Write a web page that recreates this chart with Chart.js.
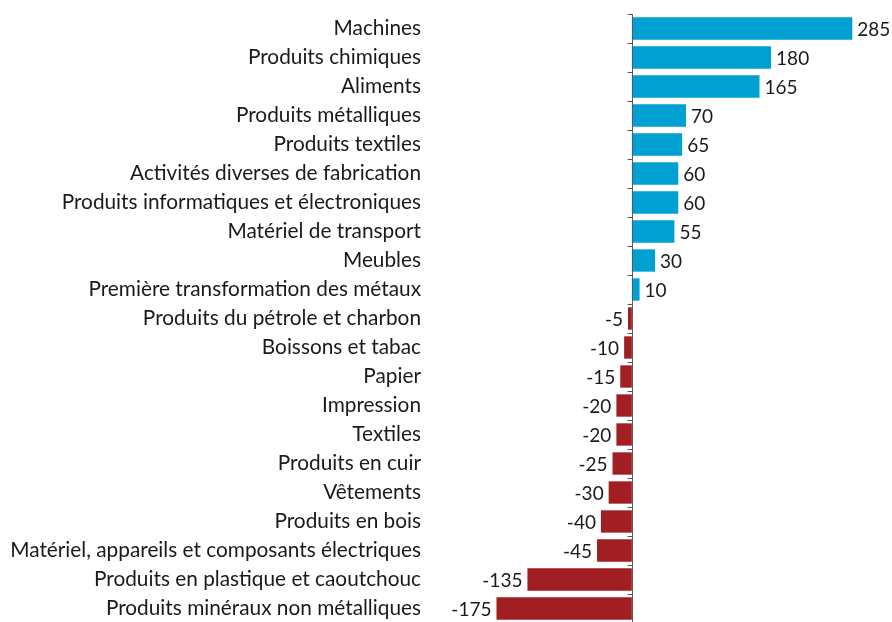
<!DOCTYPE html>
<html>
<head>
<meta charset="utf-8">
<script src="https://cdn.jsdelivr.net/npm/chart.js@4/dist/chart.umd.min.js"></script>
<style>
  html, body { margin: 0; padding: 0; background: #fff; overflow: hidden; }
  #wrap { width: 892px; height: 624px; }
</style>
</head>
<body>
<div id="wrap"><canvas id="myChart"></canvas></div>
<script>
var categories = [
  'Machines', 'Produits chimiques', 'Aliments', 'Produits métalliques',
  'Produits textiles', 'Activités diverses de fabrication',
  'Produits informatiques et électroniques', 'Matériel de transport',
  'Meubles', 'Première transformation des métaux',
  'Produits du pétrole et charbon', 'Boissons et tabac', 'Papier',
  'Impression', 'Textiles', 'Produits en cuir', 'Vêtements',
  'Produits en bois', 'Matériel, appareils et composants électriques',
  'Produits en plastique et caoutchouc', 'Produits minéraux non métalliques'
];
var values = [285, 180, 165, 70, 65, 60, 60, 55, 30, 10,
  -5, -10, -15, -20, -20, -25, -30, -40, -45, -135, -175];

var BLUE = '#00a0d3';
var RED = '#a11e22';
var FONT = 'Lato, "Open Sans", sans-serif';

// axis line at zero with small ticks between categories
var zeroAxis = {
  id: 'zeroAxis',
  afterDatasetsDraw: function(chart) {
    var ctx = chart.ctx, x = chart.scales.x, y = chart.scales.y;
    var x0 = Math.round(x.getPixelForValue(0)) + 0.5;
    ctx.save();
    ctx.strokeStyle = '#595959';
    ctx.lineWidth = 1;
    ctx.beginPath();
    ctx.moveTo(x0, y.top);
    ctx.lineTo(x0, y.bottom);
    for (var i = 0; i <= categories.length; i++) {
      var py = Math.round(y.getPixelForValue(i - 0.5)) + 0.5;
      ctx.moveTo(x0 - 5, py);
      ctx.lineTo(x0, py);
    }
    ctx.stroke();
    ctx.restore();
  }
};

var valueLabels = {
  id: 'valueLabels',
  afterDatasetsDraw: function(chart) {
    var ctx = chart.ctx;
    var meta = chart.getDatasetMeta(0);
    ctx.save();
    ctx.font = '19px ' + FONT;
    ctx.fillStyle = '#1a1a1a';
    ctx.textBaseline = 'middle';
    meta.data.forEach(function(bar, i) {
      var v = values[i];
      if (v >= 0) {
        ctx.textAlign = 'left';
        ctx.fillText(String(v), bar.x + 5, bar.y + 1);
      } else {
        ctx.textAlign = 'right';
        ctx.fillText(String(v), bar.x - 5, bar.y + 1);
      }
    });
    ctx.restore();
  }
};

var ctx = document.getElementById('myChart');
new Chart(ctx, {
  type: 'bar',
  data: {
    labels: categories,
    datasets: [{
      data: values,
      backgroundColor: values.map(function(v) { return v >= 0 ? BLUE : RED; }),
      borderWidth: 0,
      barPercentage: 0.77,
      categoryPercentage: 1
    }]
  },
  options: {
    indexAxis: 'y',
    responsive: true,
    maintainAspectRatio: false,
    animation: false,
    layout: { padding: { top: 14, bottom: 1, right: 1, left: 0 } },
    plugins: { legend: { display: false }, tooltip: { enabled: false } },
    scales: {
      x: {
        min: -270,
        max: 335,
        display: false
      },
      y: {
        border: { display: false },
        grid: { display: false, drawTicks: false },
        afterFit: function(scale) {
          scale.width = 423;
          scale.paddingTop = 0;
          scale.paddingBottom = 0;
        },
        ticks: {
          autoSkip: false,
          padding: 2,
          color: '#1a1a1a',
          font: { family: FONT, size: 20.8 }
        }
      }
    }
  },
  plugins: [zeroAxis, valueLabels]
});
</script>
</body>
</html>
